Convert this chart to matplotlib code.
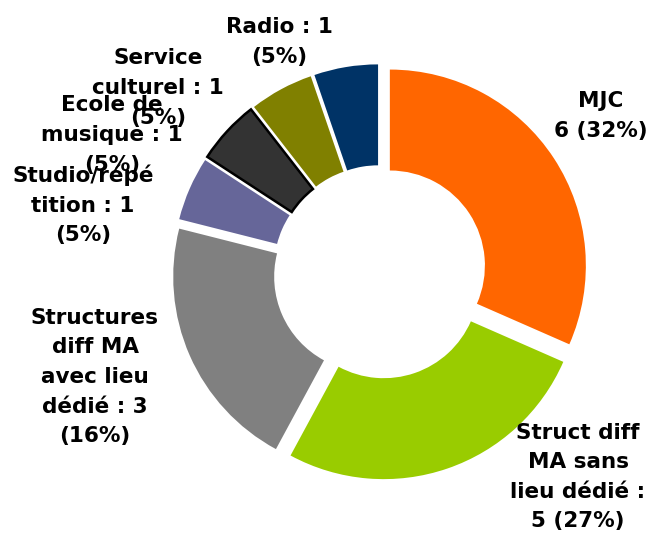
import matplotlib
matplotlib.use("Agg")
import matplotlib.pyplot as plt

# Data
categories = ["MJC", "Struct diff MA sans lieu dédié", "Structures diff MA avec lieu dédié",
              "Studio/répétition", "Ecole de musique", "Service culturel", "Radio"]
label_counts = [6, 5, 3, 1, 1, 1, 1]
label_pcts = [32, 27, 16, 5, 5, 5, 5]
# slice sizes as drawn in the reference (angular extent)
slice_sizes = [6, 5, 4, 1, 1, 1, 1]
label_texts = [
    "MJC\n6 (32%)",
    "Struct diff\nMA sans\nlieu dédié :\n5 (27%)",
    "Structures\ndiff MA\navec lieu\ndédié : 3\n(16%)",
    "Studio/répé\ntition : 1\n(5%)",
    "Ecole de\nmusique : 1\n(5%)",
    "Service\nculturel : 1\n(5%)",
    "Radio : 1\n(5%)",
]
colors = ["#FF6600", "#99CC00", "#808080", "#666699", "#333333", "#808000", "#003366"]

# layout (image pixel coordinates, origin top-left)
W, H = 650, 533
cx, cy, R = 380, 272, 196
label_pos = [(601, 116), (578, 477), (95, 377), (83, 205), (112, 135), (158, 88), (279, 42)]

plt.rcParams['font.family'] = ['DejaVu Sans']
fig = plt.figure(figsize=(W / 100, H / 100), dpi=100)
ax = fig.add_axes([0, 0, 1, 1])

wedges, _ = ax.pie(slice_sizes, colors=colors, startangle=90, counterclock=False,
                   radius=1.0, explode=[0.06] * len(slice_sizes),
                   wedgeprops=dict(width=0.515, linewidth=0))
wedges[4].set_edgecolor('black')
wedges[4].set_linewidth(1.8)

ax.set_xlim(-cx / R, (W - cx) / R)
ax.set_ylim(-(H - cy) / R, cy / R)
ax.set_aspect('equal')
ax.axis('off')

for txt, (x, y) in zip(label_texts, label_pos):
    ax.annotate(txt, xy=(x, H - y), xycoords='figure pixels', ha='center', va='center',
                fontsize=15.5, fontweight='bold', linespacing=1.6, color='black')

fig.savefig("out.png", dpi=100, facecolor='white')
